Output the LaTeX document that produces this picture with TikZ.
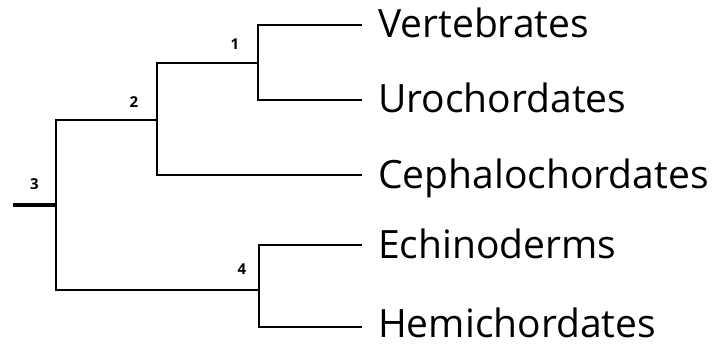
\documentclass[tikz,border=0pt]{standalone}
\usepackage{fontspec}
\setmainfont{Open Sans}
\begin{document}
\begin{tikzpicture}[x=1pt,y=-1pt,
  branch/.style={line width=2.2pt},
  stub/.style={line width=3.4pt},
  taxon/.style={anchor=base west,inner sep=0pt,text depth=0pt,xshift=16pt,yshift=-13pt,font=\fontsize{39}{42}\selectfont},
  clade/.style={inner sep=0pt,font=\bfseries\fontsize{15}{17}\selectfont}]
  \useasboundingbox (0,0) rectangle (723,345);
  % Splits
  \coordinate (root) at (13,205);
  \coordinate (n3) at (56,205);
  \coordinate (n2) at (157,120);
  \coordinate (n1) at (258,63);
  \coordinate (n4) at (259,290);
  % Tips
  \coordinate (vert) at (362,25);
  \coordinate (uro) at (362,100);
  \coordinate (ceph) at (362,175);
  \coordinate (echi) at (362,245);
  \coordinate (hemi) at (362,327);
  % Branches
  \draw[stub] (root) -- (n3);
  \draw[branch] (n2) -| (n3) |- (n4);
  \draw[branch] (n1) -| (n2) |- (ceph);
  \draw[branch] (vert) -| (n1) |- (uro);
  \draw[branch] (echi) -| (n4) |- (hemi);
  % Names
  \node[taxon] (tvert) at (vert) {Vertebrates};
  \node[taxon] (turo) at (uro) {Urochordates};
  \node[taxon] (tceph) at (ceph) {Cephalochordates};
  \node[taxon] (techi) at (echi) {Echinoderms};
  \node[taxon,yshift=3pt] (themi) at (hemi) {Hemichordates};
  % Numbers
  \node[clade] (c1) at (235,44) {1};
  \node[clade] (c2) at (134,102) {2};
  \node[clade] (c3) at (34.5,184.5) {3};
  \node[clade] (c4) at (242,269) {4};
\end{tikzpicture}
\end{document}
